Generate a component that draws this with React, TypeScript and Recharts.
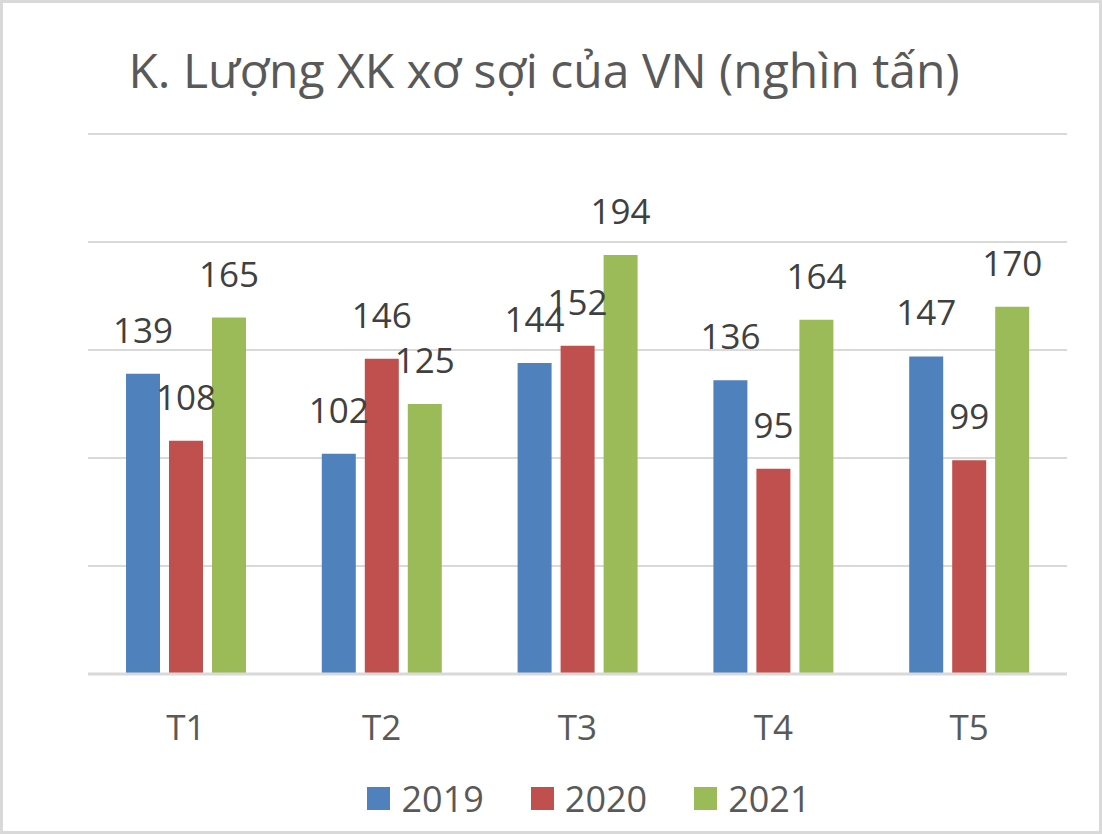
import {Bar, BarChart, CartesianGrid, LabelList, Legend, XAxis, YAxis} from "recharts";

const months = ["T1", "T2", "T3", "T4", "T5"];
const y2019 = [139, 102, 144, 136, 147];
const y2020 = [108, 146, 152, 95, 99];
const y2021 = [165, 125, 194, 164, 170];
const yTicks = [0, 50, 100, 150, 200, 250];

const series = [
    {key: "2019", values: y2019, color: "#4F81BD"},
    {key: "2020", values: y2020, color: "#C0504D"},
    {key: "2021", values: y2021, color: "#9BBB59"},
];

const FONT = "'Open Sans', sans-serif";

const LegendBox = () => (
    <div style={{
        display: "flex", justifyContent: "center", alignItems: "center",
        height: 54, paddingLeft: 23, fontFamily: FONT, fontSize: 36, color: "#595959",
    }}>
        {series.map((s, i) => (
            <div key={s.key} style={{display: "flex", alignItems: "center", marginRight: i < series.length - 1 ? 47 : 0}}>
                <div style={{width: 23, height: 23, background: s.color, marginRight: 11}}/>
                <span>{s.key}</span>
            </div>
        ))}
    </div>
);

const App = () => {
    const data = months.map((m, i) => ({
        month: m,
        "2019": y2019[i],
        "2020": y2020[i],
        "2021": y2021[i],
    }));

    return (
        <div style={{
            position: "absolute", left: 0, top: 0, width: 1102, height: 834,
            boxSizing: "border-box", border: "3px solid #D9D9D9", background: "#fff",
        }}>
            <div style={{
                position: "absolute", left: 0, top: 37, width: 1082, textAlign: "center",
                fontFamily: FONT, fontSize: 48, color: "#595959", lineHeight: "60px",
            }}>
                K. Lượng XK xơ sợi của VN (nghìn tấn)
            </div>
            <div style={{position: "absolute", left: -3, top: -3}}>
                <BarChart width={1102} height={834} data={data}
                          margin={{top: 134, right: 35, left: 88, bottom: 9}}
                          barSize={34} barGap={9}>
                    <CartesianGrid vertical={false} stroke="#D9D9D9" strokeWidth={2}/>
                    <YAxis hide domain={[0, 250]} ticks={yTicks}/>
                    <XAxis dataKey="month" height={97} tickLine={false}
                           axisLine={{stroke: "#D9D9D9", strokeWidth: 3}}
                           tickMargin={35}
                           tick={{fill: "#595959", fontSize: 35, fontFamily: FONT}}/>
                    {series.map(s => (
                        <Bar key={s.key} dataKey={s.key} fill={s.color} isAnimationActive={false}>
                            <LabelList dataKey={s.key} position="top" offset={31}
                                       fill="#404040" fontSize={35} fontFamily={FONT}/>
                        </Bar>
                    ))}
                    <Legend verticalAlign="bottom" content={() => <LegendBox/>}/>
                </BarChart>
            </div>
        </div>
    );
};

export default App;
